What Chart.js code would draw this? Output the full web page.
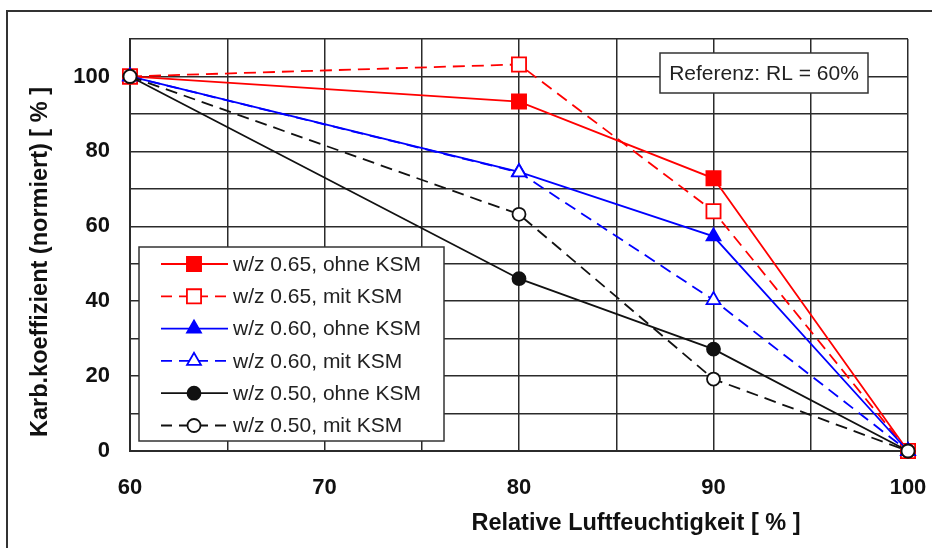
<!DOCTYPE html>
<html>
<head>
<meta charset="utf-8">
<script src="https://cdn.jsdelivr.net/npm/chart.js@4.4.1/dist/chart.umd.min.js"></script>
<style>
  html, body { margin: 0; padding: 0; background: #fff; }
  #wrap { width: 932px; height: 548px; }
</style>
</head>
<body>
<div id="wrap"><canvas id="chart" width="932" height="548"></canvas></div>
<script>
// ── Data ──────────────────────────────────
const rhLevels = [60, 80, 90, 100];
const seriesLabels = [
  'w/z 0.65, ohne KSM', 'w/z 0.65, mit KSM',
  'w/z 0.60, ohne KSM', 'w/z 0.60, mit KSM',
  'w/z 0.50, ohne KSM', 'w/z 0.50, mit KSM'
];
const w065Ohne = [100, 93.3, 72.8, 0];
const w065Mit  = [100, 103.2, 64.0, 0];
const w060Ohne = [100, 74.5, 57.3, 0];
const w060Mit  = [100, 74.4, 40.3, 0];
const w050Ohne = [100, 46.0, 27.2, 0];
const w050Mit  = [100, 63.2, 19.2, 0];
const xTickLabels = [60, 70, 80, 90, 100];
const yTickLabels = [0, 20, 40, 60, 80, 100];
const xTitle = 'Relative Luftfeuchtigkeit [ % ]';
const yTitle = 'Karb.koeffizient (normiert) [ % ]';
const refNote = 'Referenz: RL = 60%';

const FONT = "'Liberation Sans', Arial, sans-serif";
const RED = '#ff0000', BLUE = '#0000ff', BLACK = '#111111';
const GRID = '#2b2b2b';

const toPts = (vals) => vals.map((v, i) => ({ x: rhLevels[i], y: v }));

const mkSet = (label, vals, color, style, filled, dashed, order) => ({
  label,
  data: toPts(vals),
  borderColor: color,
  borderWidth: 1.8,
  borderDash: dashed ? [12, 7] : [],
  pointStyle: style,
  pointRadius: style === 'rect' ? 10 : style === 'triangle' ? 8 : 6.5,
  pointBorderWidth: 1.8,
  pointBorderColor: color,
  pointBackgroundColor: filled ? color : '#fff',
  fill: false,
  tension: 0,
  clip: false,
  order
});

const datasets = [
  mkSet(seriesLabels[0], w065Ohne, RED, 'rect', true, false, 6),
  mkSet(seriesLabels[1], w065Mit, RED, 'rect', false, true, 5),
  mkSet(seriesLabels[2], w060Ohne, BLUE, 'triangle', true, false, 4),
  mkSet(seriesLabels[3], w060Mit, BLUE, 'triangle', false, true, 3),
  mkSet(seriesLabels[4], w050Ohne, BLACK, 'circle', true, false, 2),
  mkSet(seriesLabels[5], w050Mit, BLACK, 'circle', false, true, 1)
];

// simple marker painter for the legend
const marker = (ctx, ds, x, y) => {
  const r = ds.pointRadius;
  ctx.save();
  ctx.setLineDash([]);
  ctx.lineWidth = ds.pointBorderWidth;
  ctx.strokeStyle = ds.pointBorderColor;
  ctx.fillStyle = ds.pointBackgroundColor;
  ctx.beginPath();
  if (ds.pointStyle === 'rect') {
    const s = r * Math.SQRT1_2;
    ctx.rect(x - s, y - s, 2 * s, 2 * s);
  } else if (ds.pointStyle === 'triangle') {
    const e = 3 * r / Math.sqrt(3), h = e * Math.sqrt(3) / 2;
    ctx.moveTo(x - e / 2, y + h / 3);
    ctx.lineTo(x + e / 2, y + h / 3);
    ctx.lineTo(x, y - 2 * h / 3);
    ctx.closePath();
  } else {
    ctx.arc(x, y, r, 0, Math.PI * 2);
  }
  ctx.fill();
  ctx.stroke();
  ctx.restore();
};

// frame, axis titles, reference note and legend box
const decor = {
  id: 'decor',
  beforeDraw(chart) {
    const { ctx } = chart;
    ctx.save();
    ctx.fillStyle = '#fff';
    ctx.fillRect(0, 0, chart.width, chart.height);
    ctx.strokeStyle = '#333';
    ctx.lineWidth = 2;
    ctx.strokeRect(7, 11, 960, 600);
    ctx.restore();
  },
  afterDraw(chart) {
    const { ctx } = chart;
    ctx.save();
    ctx.fillStyle = '#111';
    ctx.font = `bold 23.5px ${FONT}`;
    ctx.textAlign = 'center';
    ctx.textBaseline = 'middle';
    ctx.fillText(xTitle, 636, 524);
    ctx.translate(41, 262);
    ctx.rotate(-Math.PI / 2);
    ctx.fillText(yTitle, 0, 0);
    ctx.restore();

    // reference note
    ctx.save();
    ctx.fillStyle = '#fff';
    ctx.fillRect(660, 53, 208, 40);
    ctx.strokeStyle = '#333';
    ctx.lineWidth = 1.5;
    ctx.strokeRect(660, 53, 208, 40);
    ctx.fillStyle = '#222';
    ctx.font = `21px ${FONT}`;
    ctx.textAlign = 'center';
    ctx.textBaseline = 'middle';
    ctx.fillText(refNote, 764, 74);
    ctx.restore();

    // legend
    ctx.save();
    ctx.fillStyle = '#fff';
    ctx.fillRect(139, 247, 305, 194);
    ctx.strokeStyle = '#333';
    ctx.lineWidth = 1.5;
    ctx.strokeRect(139, 247, 305, 194);
    ctx.font = `21px ${FONT}`;
    ctx.textBaseline = 'middle';
    chart.data.datasets.forEach((ds, i) => {
      const y = 264 + i * 32.3;
      ctx.strokeStyle = ds.borderColor;
      ctx.lineWidth = ds.borderWidth;
      ctx.setLineDash(ds.borderDash.length ? [11, 7] : []);
      ctx.beginPath();
      ctx.moveTo(161, y);
      ctx.lineTo(228, y);
      ctx.stroke();
      marker(ctx, ds, 194, y);
      ctx.setLineDash([]);
      ctx.fillStyle = '#222';
      ctx.fillText(ds.label, 233, y + 1);
    });
    ctx.restore();
  }
};

new Chart(document.getElementById('chart'), {
  type: 'line',
  data: { datasets },
  options: {
    responsive: false,
    animation: false,
    layout: { padding: { left: 0, top: 39, right: 24, bottom: 0 } },
    plugins: { legend: { display: false }, tooltip: { enabled: false } },
    scales: {
      x: {
        type: 'linear',
        min: 60, max: 100,
        afterFit: (s) => { s.height = 97; s.paddingLeft = 0; s.paddingRight = 0; },
        border: { color: GRID, width: 2 },
        grid: { color: GRID, lineWidth: 1.5, drawTicks: false },
        ticks: {
          stepSize: 5,
          padding: 24,
          color: '#111',
          font: { family: FONT, size: 22, weight: 'bold' },
          maxRotation: 0,
          callback: (v) => xTickLabels.includes(v) ? String(v) : ''
        }
      },
      y: {
        min: 0, max: 110,
        afterFit: (s) => { s.width = 130; },
        border: { color: GRID, width: 2 },
        grid: { color: GRID, lineWidth: 1.5, drawTicks: false },
        ticks: {
          stepSize: 10,
          padding: 20,
          color: '#111',
          font: { family: FONT, size: 22, weight: 'bold' },
          callback: (v) => yTickLabels.includes(v) ? String(v) : ''
        }
      }
    }
  },
  plugins: [decor]
});
</script>
</body>
</html>
